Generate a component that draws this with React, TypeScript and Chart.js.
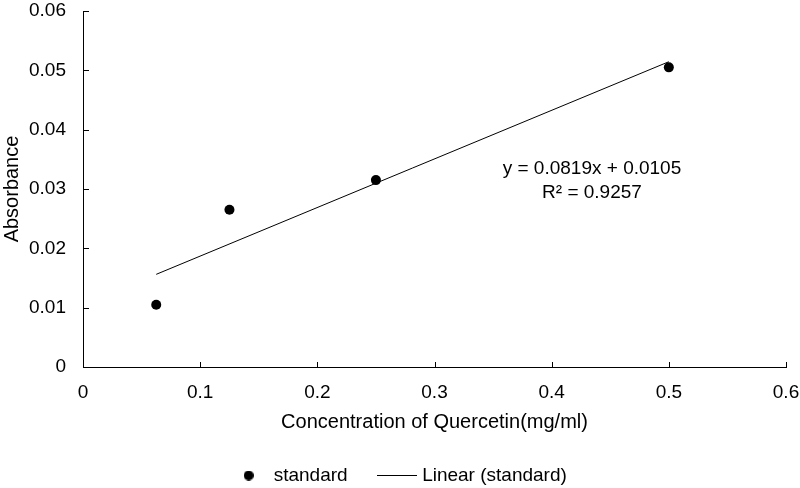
import React, { useEffect, useRef } from 'react';
import { Chart, registerables } from 'chart.js';

Chart.register(...registerables);

// ---- data ----
const concentrations = [0.0625, 0.125, 0.25, 0.5];
const absorbances = [0.0105, 0.0265, 0.0315, 0.0505];
const trendSlope = 0.0819;
const trendIntercept = 0.0105;
const rSquared = 0.9257;
const xTickValues = [0, 0.1, 0.2, 0.3, 0.4, 0.5, 0.6];
const xTickLabels = ['0', '0.1', '0.2', '0.3', '0.4', '0.5', '0.6'];
const yTickValues = [0, 0.01, 0.02, 0.03, 0.04, 0.05, 0.06];
const yTickLabels = ['0', '0.01', '0.02', '0.03', '0.04', '0.05', '0.06'];
const xTitle = 'Concentration of Quercetin(mg/ml)';
const yTitle = 'Absorbance';
const seriesName = 'standard';
const trendName = 'Linear (standard)';
const equationText = `y = ${trendSlope}x + ${trendIntercept}`;
const r2Text = `R² = ${rSquared}`;

const FONT = '"Liberation Sans", Arial, sans-serif';
const INK = '#000000';

export default function App() {
  const ref = useRef<HTMLCanvasElement | null>(null);

  useEffect(() => {
    const canvas = ref.current;
    if (!canvas) return;

    const dot = document.createElement('canvas');
    dot.width = 10; dot.height = 10;
    {
      const c = dot.getContext('2d')!;
      c.fillStyle = INK;
      c.beginPath(); c.arc(5, 5, 5, 0, Math.PI * 2); c.fill();
    }
    const lineImg = document.createElement('canvas');
    lineImg.width = 40; lineImg.height = 1;
    {
      const c = lineImg.getContext('2d')!;
      c.fillStyle = INK; c.fillRect(0, 0, 40, 1);
    }

    const xMinData = Math.min(...concentrations);
    const xMaxData = Math.max(...concentrations);
    const trendData = [xMinData, xMaxData].map((x) => ({ x, y: trendSlope * x + trendIntercept }));

    const insideTicks = {
      id: 'insideTicks',
      afterDatasetsDraw(chart: any) {
        const { ctx, chartArea } = chart;
        const xs = chart.scales.x;
        const ys = chart.scales.y;
        ctx.save();
        ctx.strokeStyle = INK;
        ctx.lineWidth = 1;
        ctx.beginPath();
        xTickValues.forEach((v) => {
          const px = Math.round(xs.getPixelForValue(v)) + 0.5;
          ctx.moveTo(px, chartArea.bottom);
          ctx.lineTo(px, chartArea.bottom - 5);
        });
        yTickValues.forEach((v) => {
          const py = Math.round(ys.getPixelForValue(v)) + 0.5;
          ctx.moveTo(chartArea.left, py);
          ctx.lineTo(chartArea.left + 6, py);
        });
        ctx.stroke();
        // equation annotation
        const cx = chartArea.left + 0.724 * (chartArea.right - chartArea.left);
        const cy = chartArea.top + 0.442 * (chartArea.bottom - chartArea.top);
        ctx.fillStyle = INK;
        ctx.font = `19px ${FONT}`;
        ctx.textAlign = 'center';
        ctx.textBaseline = 'middle';
        ctx.fillText(equationText, cx, cy);
        ctx.fillText(r2Text, cx, cy + 24);
        ctx.restore();
      },
    };

    const chart = new Chart(canvas, {
      type: 'scatter',
      data: {
        datasets: [
          {
            label: seriesName,
            data: concentrations.map((x, i) => ({ x, y: absorbances[i] })),
            backgroundColor: INK,
            borderColor: INK,
            pointRadius: 5,
            pointBorderWidth: 0,
            showLine: false,
            order: 1,
          },
          {
            type: 'line',
            label: trendName,
            data: trendData,
            borderColor: INK,
            borderWidth: 1,
            pointRadius: 0,
            fill: false,
            order: 2,
          } as any,
        ],
      },
      options: {
        animation: false,
        responsive: false,
        layout: { padding: { left: 0, right: 0, top: 11, bottom: -7 } },
        scales: {
          x: {
            type: 'linear',
            position: 'bottom',
            min: 0,
            max: 0.6,
            afterFit: (s: any) => { s.height = 65; s.paddingLeft = 0; s.paddingRight = 0; },
            afterBuildTicks: (s: any) => { s.ticks = xTickValues.map((v) => ({ value: v })); },
            ticks: {
              callback: (_v: any, i: number) => xTickLabels[i],
              font: { family: FONT, size: 19 },
              color: INK,
              padding: 14,
              maxRotation: 0,
              autoSkip: false,
            },
            grid: { display: false, drawTicks: false },
            border: { display: true, color: INK, width: 1 },
            title: {
              display: true,
              text: xTitle,
              font: { family: FONT, size: 20, lineHeight: 1 },
              color: INK,
              padding: { top: 0, bottom: 0 },
            },
          },
          y: {
            type: 'linear',
            position: 'left',
            min: 0,
            max: 0.06,
            afterFit: (s: any) => { s.width = 83; s.paddingTop = 0; s.paddingBottom = 0; },
            afterBuildTicks: (s: any) => { s.ticks = yTickValues.map((v) => ({ value: v })); },
            ticks: {
              callback: (_v: any, i: number) => yTickLabels[i],
              font: { family: FONT, size: 19 },
              color: INK,
              padding: 17,
              autoSkip: false,
            },
            grid: { display: false, drawTicks: false },
            border: { display: true, color: INK, width: 1 },
            title: {
              display: true,
              text: yTitle,
              font: { family: FONT, size: 20, lineHeight: 1.2 },
              color: INK,
              padding: { top: 0, bottom: 0 },
            },
          },
          yRight: {
            type: 'linear',
            position: 'right',
            display: true,
            afterFit: (s: any) => { s.width = 14; s.paddingTop = 0; s.paddingBottom = 0; },
            ticks: { display: false },
            grid: { display: false, drawTicks: false },
            border: { display: false },
            title: { display: false },
          },
        },
        plugins: {
          legend: {
            position: 'bottom',
            labels: {
              usePointStyle: true,
              pointStyleWidth: 31,
              padding: 34,
              font: { family: FONT, size: 19 },
              color: INK,
              generateLabels: () => [
                { text: seriesName, pointStyle: dot, fillStyle: INK, strokeStyle: INK, lineWidth: 0, hidden: false, datasetIndex: 0, fontColor: INK } as any,
                { text: trendName, pointStyle: lineImg, fillStyle: INK, strokeStyle: INK, lineWidth: 0, hidden: false, datasetIndex: 1, fontColor: INK } as any,
              ],
            },
          },
          tooltip: { enabled: false },
        },
      },
      plugins: [insideTicks],
    });

    return () => chart.destroy();
  }, []);

  return (
    <div style={{ position: 'fixed', left: 0, top: 0, width: 800, height: 488, background: '#fff' }}>
      <canvas ref={ref} width={800} height={488} style={{ display: 'block' }} />
    </div>
  );
}
